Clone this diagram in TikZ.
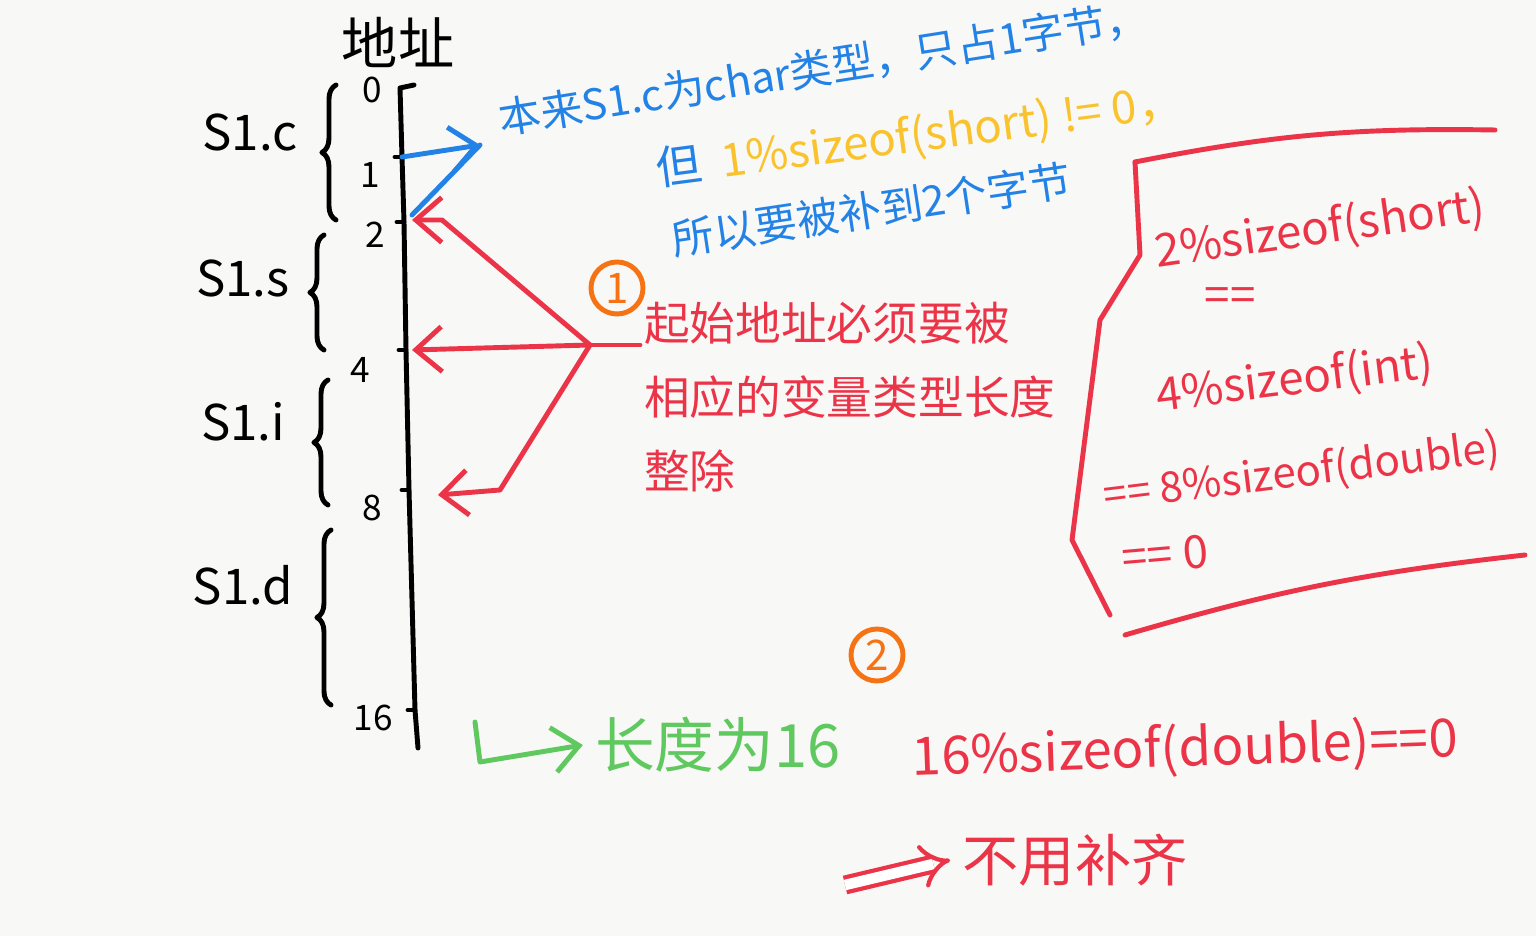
\documentclass[tikz,border=0pt]{standalone}
\usepackage{fontspec}
\setmainfont{Noto Sans CJK SC}
\usetikzlibrary{positioning,decorations.pathreplacing,arrows.meta}
\definecolor{paper}{RGB}{248,248,246}
\definecolor{inkred}{RGB}{236,52,72}
\definecolor{inkblue}{RGB}{35,130,230}
\definecolor{inkorange}{RGB}{245,115,20}
\definecolor{inkyellow}{RGB}{250,195,45}
\definecolor{inkgreen}{RGB}{95,200,95}

\begin{document}
\begin{tikzpicture}[
    pen/.style={line width=1.4pt,line cap=round,line join=round},
    arr/.style={pen,-{Straight Barb[length=2.6mm,width=4.5mm]}},
    brc/.style={pen,decorate,decoration={brace,amplitude=4pt,mirror}},
    note/.style={font=\fontsize{12}{21}\selectfont,inner sep=1pt,align=left},
    tag/.style={font=\fontsize{14}{16}\selectfont,inner sep=1pt},
    tick/.style={font=\fontsize{10}{12}\selectfont,inner sep=1pt},
    circ/.style={circle,draw=inkorange,line width=1.4pt,text=inkorange,
                 minimum size=0.52cm,inner sep=0pt,font=\fontsize{12}{12}\selectfont}
]
\fill[paper] (0,0) rectangle (15.36,-9.36);
\useasboundingbox (0,0) rectangle (15.36,-9.36);

% address axis
\coordinate (a0)  at (4.00,-0.88);
\coordinate (a1)  at (4.02,-1.57);
\coordinate (a2)  at (4.04,-2.22);
\coordinate (a4)  at (4.06,-3.50);
\coordinate (a8)  at (4.09,-4.90);
\coordinate (a16) at (4.15,-7.10);
\coordinate (aend) at (4.18,-7.48);
\coordinate (atop) at (4.14,-0.85);
\draw[pen] (atop) -- (a0) -- (a1) -- (a2) -- (a4) -- (a8) -- (a16) -- (aend);
\foreach \t in {a1,a2,a4,a8,a16}
  \draw[pen] (\t) -- ++(-0.07,0);
\node[tag,font=\fontsize{16}{18}\selectfont] (addr) at (3.98,-0.42) {地址};

\node[tick] (l0)  at (3.72,-0.90) {0};
\node[tick] (l1)  at (3.70,-1.75) {1};
\node[tick] (l2)  at (3.75,-2.35) {2};
\node[tick] (l4)  at (3.60,-3.70) {4};
\node[tick] (l8)  at (3.72,-5.08) {8};
\node[tick] (l16) at (3.73,-7.18) {16};

% members
\draw[brc] (3.36,-0.85) -- (3.36,-2.20);
\draw[brc] (3.24,-2.35) -- (3.24,-3.50);
\draw[brc] (3.28,-3.80) -- (3.28,-5.05);
\draw[brc] (3.31,-5.30) -- (3.31,-7.05);
\node[tag] (sc) at (2.50,-1.32) {S1.c};
\node[tag] (ss) at (2.43,-2.78) {S1.s};
\node[tag] (si) at (2.43,-4.22) {S1.i};
\node[tag] (sd) at (2.43,-5.85) {S1.d};

% padding note
\coordinate (bt) at (4.80,-1.45);
\coordinate (b2) at (4.12,-2.15);
\draw[arr,inkblue] (a1) -- (bt);
\draw[pen,inkblue] (b2) -- (bt);
\node[note,text=inkblue,anchor=west,rotate=9] (blue1) at (4.95,-1.20)
  {本来S1.c为char类型，只占1字节，};
\node[note,text=inkblue,anchor=west,rotate=7.5,font=\fontsize{13}{16}\selectfont] (blue2) at (6.52,-1.72)
  {但\ \ \textcolor{inkyellow}{1\%sizeof(short) != 0，}};
\node[note,text=inkblue,anchor=west,rotate=8.5] (blue3) at (6.68,-2.40)
  {所以要被补到2个字节};

% rule 1
\node[circ] (c1) at (6.17,-2.88) {1};
\node[note,text=inkred,anchor=north west,font=\fontsize{13}{21}\selectfont] (rule) at (6.40,-2.98)
  {起始地址必须要被\\相应的变量类型长度\\整除};
\coordinate (rj) at (5.90,-3.45);
\coordinate (t2) at (4.12,-2.20);
\coordinate (t4) at (4.12,-3.50);
\coordinate (t8) at (4.38,-4.95);
\draw[pen,inkred] (rj) -- (rule.west |- rj);
\draw[arr,inkred] (rj) -- (4.42,-2.20) -- (t2);
\draw[arr,inkred] (rj) -- (t4);
\draw[arr,inkred] (rj) -- (5.00,-4.90) -- (t8);

% check box
\draw[pen,inkred] (11.35,-1.62) to[bend left=6] (14.95,-1.30);
\draw[pen,inkred] (11.35,-1.62) -- (11.40,-2.55) -- (11.00,-3.20)
  -- (10.72,-5.40) -- (11.10,-6.15);
\draw[pen,inkred] (11.25,-6.35) to[bend left=5] (15.25,-5.55);
\node[note,text=inkred,rotate=8,font=\fontsize{13}{16}\selectfont] (m2) at (13.20,-2.30) {2\%sizeof(short)};
\node[note,text=inkred,font=\fontsize{13}{16}\selectfont] (eq1) at (12.30,-3.00) {==};
\node[note,text=inkred,rotate=7,font=\fontsize{13}{16}\selectfont] (m4) at (12.95,-3.80) {4\%sizeof(int)};
\node[note,text=inkred,anchor=west,rotate=7] (m8) at (11.00,-4.98)
  {== 8\%sizeof(double)};
\node[note,text=inkred,rotate=5,font=\fontsize{13}{16}\selectfont] (m0) at (11.65,-5.55) {== 0};

% rule 2
\node[circ] (c2) at (8.77,-6.55) {2};
\node[text=inkred,rotate=2,font=\fontsize{15}{18}\selectfont] (m16) at (11.85,-7.50)
  {16\%sizeof(double)==0};
\node[text=inkred,font=\fontsize{16}{18}\selectfont] (nofill) at (10.75,-8.60) {不用补齐};
\coordinate (imp) at (8.45,-8.85);
\draw[inkred,line width=1.2pt,double distance=3pt,-{Implies}] (imp) -- (nofill.west);

% total size
\node[text=inkgreen,font=\fontsize{17}{20}\selectfont] (len) at (7.18,-7.45) {长度为16};
\coordinate (g0) at (4.75,-7.22);
\draw[arr,inkgreen] (g0) -- (4.80,-7.62) -- (len.west);
\end{tikzpicture}
\end{document}
